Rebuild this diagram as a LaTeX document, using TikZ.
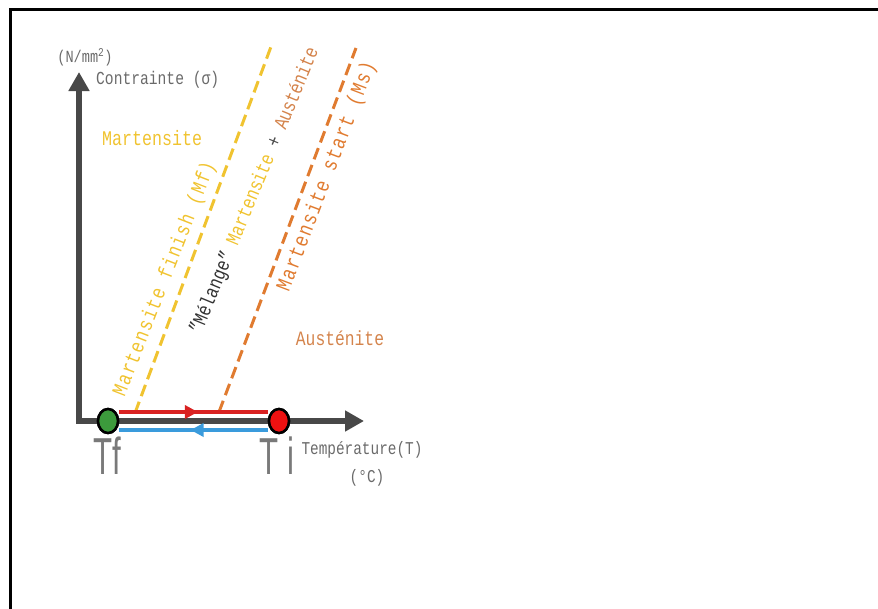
\documentclass[tikz,border=0pt]{standalone}
\usepackage{fontspec}
\setmainfont[FakeStretch=0.8]{Liberation Mono}
\newfontfamily\rotfont[FakeStretch=0.8,LetterSpace=7]{Liberation Mono}
\newfontfamily\bigfont[FakeStretch=0.6]{Liberation Sans}
\usetikzlibrary{arrows.meta,decorations.markings,shapes.geometric}
\definecolor{yellowc}{HTML}{F0C330}
\definecolor{orangec}{HTML}{E07B30}
\definecolor{austc}{HTML}{D4844C}
\definecolor{textgray}{HTML}{6A6A6A}
\definecolor{axisgray}{HTML}{484848}
\definecolor{redc}{HTML}{D92222}
\definecolor{bluec}{HTML}{3A9BDC}
\definecolor{greenc}{HTML}{3C9A3C}
\definecolor{redfill}{HTML}{EE1111}
\begin{document}
\begin{tikzpicture}[x=1pt,y=-1pt,
  lbl/.style={inner sep=0pt,text=textgray},
  axisline/.style={draw=axisgray,line width=6pt,-{Triangle[length=19pt,width=20pt]}},
  phaseline/.style={line width=3pt,dash pattern=on 12pt off 6pt},
  pathline/.style={line width=4pt},
  endpt/.style={ellipse,minimum width=20pt,minimum height=24pt,inner sep=0pt,draw=black,line width=2.5pt},
  midarrow/.style={postaction={decorate,decoration={markings,mark=at position #1 with {\arrow{Triangle[length=13pt,width=13pt]}}}}}
]
\useasboundingbox (0,0) rectangle (878,608);
% frame
\draw[line width=3pt] (10,612) -- (10,9) -- (882,9);

% coordinates
\coordinate (O) at (79,421);
\coordinate (Ytip) at (79,72);
\coordinate (Xtip) at (364,421);
\coordinate (mfA) at (135,413);
\coordinate (mfB) at (272,44);
\coordinate (msA) at (219,412);
\coordinate (msB) at (356,48);

% phase lines
\draw[phaseline,draw=yellowc] (mfA) -- (mfB);
\draw[phaseline,draw=orangec] (msA) -- (msB);

% axes
\draw[axisline] ([xshift=-3pt]O) -- (Xtip);
\draw[axisline] ([yshift=3pt]O) -- (Ytip);

% end points
\node[endpt,fill=greenc] (Tf) at (108,421) {};
\node[endpt,fill=redfill] (Ti) at (279,421) {};

% heating / cooling paths
\draw[pathline,draw=redc,fill=redc,midarrow=0.53] ([yshift=9pt]Tf.east) -- ([yshift=9pt]Ti.west);
\draw[pathline,draw=bluec,fill=bluec,midarrow=0.52] ([yshift=-9pt]Ti.west) -- ([yshift=-9pt]Tf.east);
\node[endpt,fill=greenc] (Tf2) at (Tf) {};
\node[endpt,fill=redfill] (Ti2) at (Ti) {};

% labels
\node[lbl,font=\bigfont\fontsize{52}{52}\selectfont,text=textgray!90] (Tfl) at (107,456) {Tf};
\node[lbl,font=\bigfont\fontsize{52}{52}\selectfont,text=textgray!90] (Til) at (277,456) {T\,i};
\node[lbl,font=\fontsize{18}{18}\selectfont] (temp) at (362,450) {Température(T)};
\node[lbl,font=\fontsize{18}{18}\selectfont] (degc) at (367,478) {(°C)};
\node[lbl,font=\fontsize{17}{17}\selectfont] (unit) at (85,57) {(N/mm\textsuperscript{2})};
\node[lbl,font=\fontsize{18.3}{18}\selectfont,anchor=west] (contr) at (96,80) {Contrainte (σ)};
\node[lbl,font=\fontsize{20.8}{20}\selectfont,text=yellowc,anchor=west] (mart) at (102,138) {Martensite};
\node[lbl,font=\fontsize{20.4}{20}\selectfont,text=austc] (aust) at (340,338) {Austénite};

\node[lbl,font=\rotfont\fontsize{21}{21}\selectfont,text=yellowc,rotate=68.7] (mftxt) at (165,279) {Martensite finish (Mf)};
\node[lbl,font=\rotfont\fontsize{21.5}{21}\selectfont,text=orangec,rotate=69.2] (mstxt) at (327,177) {Martensite start (Ms)};
\node[lbl,font=\fontsize{20}{20}\selectfont,rotate=67.5] (mel) at (255,191)
  {\textcolor{black!80}{"Mélange"} \textcolor{yellowc}{Martensite} \textcolor{black!70}{+} \textcolor{austc}{Austénite}};
\end{tikzpicture}
\end{document}
